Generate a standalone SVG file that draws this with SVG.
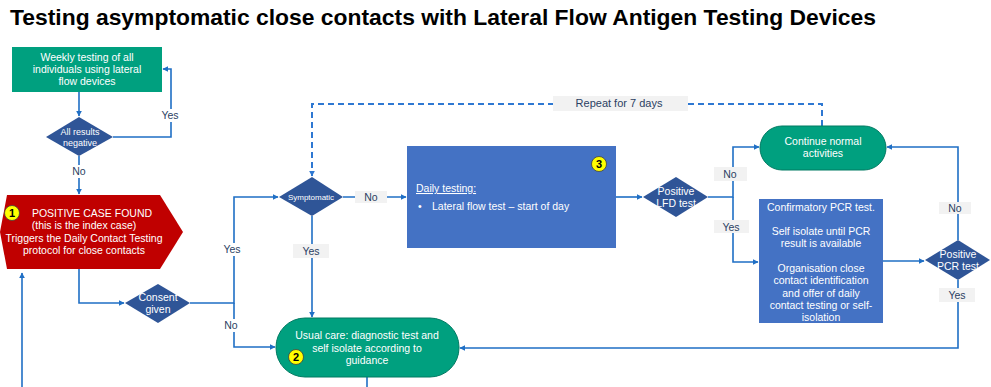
<svg xmlns="http://www.w3.org/2000/svg" width="991" height="387" viewBox="0 0 991 387">
<style>
.t{font-family:"Liberation Sans",Arial,sans-serif;font-size:10.5px;fill:#fff;text-anchor:middle}
.lab{font-family:"Liberation Sans",Arial,sans-serif;font-size:10.5px;fill:#2B3F63;text-anchor:middle}
.green{fill:#00A07F;stroke:#007A62;stroke-width:1}
.dia{fill:#2F5597}
.blue{fill:#4472C4}
.conn{fill:none;stroke:#1F6FC5;stroke-width:1.6}
.dash{fill:none;stroke:#2E78D2;stroke-width:2;stroke-dasharray:6 4}
.gbg{fill:#F2F2F2}
.wbg{fill:#fff}
.num{fill:#FFFF00;stroke:#404040;stroke-width:0.8}
.numt{font-family:"Liberation Sans",Arial,sans-serif;font-size:11px;font-weight:bold;fill:#000;text-anchor:middle}
</style>
<defs>
<marker id="ah" viewBox="0 0 10 10" refX="9" refY="5" markerWidth="6" markerHeight="6" markerUnits="userSpaceOnUse" orient="auto">
<path d="M0,0 L10,5 L0,10 z" fill="#1F6FC5"/>
</marker>
<marker id="ahd" viewBox="0 0 10 10" refX="9" refY="5" markerWidth="6" markerHeight="6" markerUnits="userSpaceOnUse" orient="auto">
<path d="M0,0 L10,5 L0,10 z" fill="#2E78D2"/>
</marker>
</defs>
<rect width="991" height="387" fill="#fff"/>
<text x="10" y="25" font-family="Liberation Sans,Arial,sans-serif" font-size="21.5" font-weight="bold" fill="#000" textLength="866" lengthAdjust="spacingAndGlyphs">Testing asymptomatic close contacts with Lateral Flow Antigen Testing Devices</text>

<g id="connectors">
<path class="conn" d="M79,92 V116" marker-end="url(#ah)"/>
<path class="conn" d="M113,137 H171 V69 H163" marker-end="url(#ah)"/>
<path class="conn" d="M79,156 V194" marker-end="url(#ah)"/>
<path class="conn" d="M79,269 V303 H124" marker-end="url(#ah)"/>
<path class="conn" d="M190,303 H234 V197 H278" marker-end="url(#ah)"/>
<path class="conn" d="M234,303 V347 H275" marker-end="url(#ah)"/>
<path class="conn" d="M22,387 V273" marker-end="url(#ah)"/>
<path class="conn" d="M343,197 H406" marker-end="url(#ah)"/>
<path class="conn" d="M312,216 V317" marker-end="url(#ah)"/>
<path class="dash" d="M822,126 V104 H312 V176" marker-end="url(#ahd)"/>
<path class="conn" d="M616,197 H642" marker-end="url(#ah)"/>
<path class="conn" d="M708,197 H733 V147 H759" marker-end="url(#ah)"/>
<path class="conn" d="M733,197 V262 H758" marker-end="url(#ah)"/>
<path class="conn" d="M883,261 H924" marker-end="url(#ah)"/>
<path class="conn" d="M958,240 V147 H887" marker-end="url(#ah)"/>
<path class="conn" d="M958,280 V348 H460" marker-end="url(#ah)"/>
<path class="conn" d="M367,377 V387"/>
<rect class="wbg" x="160" y="109" width="22" height="13"/><text class="lab" x="170" y="119">Yes</text>
<rect class="wbg" x="70" y="165" width="18" height="13"/><text class="lab" x="79" y="175">No</text>
<rect class="wbg" x="222" y="243" width="22" height="13"/><text class="lab" x="232" y="253">Yes</text>
<rect class="wbg" x="222" y="319" width="18" height="13"/><text class="lab" x="231" y="329">No</text>
<rect class="gbg" x="355" y="191" width="32" height="12"/><text class="lab" x="371" y="201">No</text>
<rect class="gbg" x="293" y="244" width="36" height="14"/><text class="lab" x="311" y="255">Yes</text>
<rect class="gbg" x="553" y="96" width="135" height="15"/><text class="lab" x="619" y="107" style="font-size:11px">Repeat for 7 days</text>
<rect class="gbg" x="714" y="167" width="33" height="14"/><text class="lab" x="730" y="178">No</text>
<rect class="gbg" x="714" y="220" width="35" height="13"/><text class="lab" x="731" y="231">Yes</text>
<rect class="gbg" x="939" y="202" width="32" height="12"/><text class="lab" x="955" y="212">No</text>
<rect class="gbg" x="939" y="288" width="36" height="14"/><text class="lab" x="957" y="299">Yes</text>
</g>

<g id="weekly">
<rect class="green" x="12" y="47" width="150" height="45" style="stroke:none"/>
<text class="t" x="87" y="61">Weekly testing of all</text>
<text class="t" x="87" y="73">individuals using lateral</text>
<text class="t" x="87" y="85">flow devices</text>
</g>

<g id="all-negative">
<polygon class="dia" points="79,117 113,137 79,156 46,137"/>
<text class="t" x="80" y="135" style="font-size:9px">All results</text>
<text class="t" x="80" y="146" style="font-size:9px">negative</text>
</g>

<g id="positive-case">
<polygon points="7,195 160,195 183,232 160,269 7,269 0,232" fill="#C00000"/>
<circle class="num" cx="12" cy="213" r="7.5"/><text class="numt" x="12" y="217">1</text>
<text class="t" x="92" y="217">POSITIVE CASE FOUND</text>
<text class="t" x="84" y="229">(this is the index case)</text>
<text class="t" x="84" y="242">Triggers the Daily Contact Testing</text>
<text class="t" x="84" y="254">protocol for close contacts</text>
</g>

<g id="consent">
<polygon class="dia" points="158,284 190,303 158,323 125,303"/>
<text class="t" x="158" y="301">Consent</text>
<text class="t" x="158" y="313">given</text>
</g>

<g id="symptomatic">
<polygon class="dia" points="312,177 343,197 312,216 279,197"/>
<text class="t" x="311" y="200" style="font-size:8px">Symptomatic</text>
</g>

<g id="daily-testing">
<rect class="blue" x="407" y="146" width="209" height="102"/>
<circle class="num" cx="599" cy="164" r="7.5"/><text class="numt" x="599" y="168">3</text>
<text class="t" x="416" y="192" style="text-anchor:start;text-decoration:underline">Daily testing:</text>
<text class="t" x="418" y="210" style="text-anchor:start">•</text>
<text class="t" x="432" y="210" style="text-anchor:start">Lateral flow test – start of day</text>
</g>

<g id="positive-lfd">
<polygon class="dia" points="676,177 708,197 676,217 643,197"/>
<text class="t" x="676" y="195">Positive</text>
<text class="t" x="676" y="207">LFD test</text>
</g>

<g id="continue-normal">
<rect class="green" x="760" y="126" width="126" height="44" rx="22"/>
<text class="t" x="823" y="145">Continue normal</text>
<text class="t" x="823" y="157">activities</text>
</g>

<g id="confirmatory">
<rect class="blue" x="759" y="199" width="124" height="124"/>
<text class="t" x="821" y="211">Confirmatory PCR test.</text>
<text class="t" x="821" y="235">Self isolate until PCR</text>
<text class="t" x="821" y="247">result is available</text>
<text class="t" x="821" y="272">Organisation close</text>
<text class="t" x="821" y="284">contact identification</text>
<text class="t" x="821" y="297">and offer of daily</text>
<text class="t" x="821" y="309">contact testing or self-</text>
<text class="t" x="821" y="321">isolation</text>
</g>

<g id="positive-pcr">
<polygon class="dia" points="958,240 990,260 958,280 925,260"/>
<text class="t" x="958" y="258">Positive</text>
<text class="t" x="958" y="270">PCR test</text>
</g>

<g id="usual-care">
<rect class="green" x="276" y="318" width="183" height="59" rx="29"/>
<text class="t" x="367" y="339">Usual care: diagnostic test and</text>
<text class="t" x="367" y="352">self isolate according to</text>
<text class="t" x="367" y="364">guidance</text>
<circle class="num" cx="296" cy="357" r="7.5"/><text class="numt" x="296" y="361">2</text>
</g>
</svg>
